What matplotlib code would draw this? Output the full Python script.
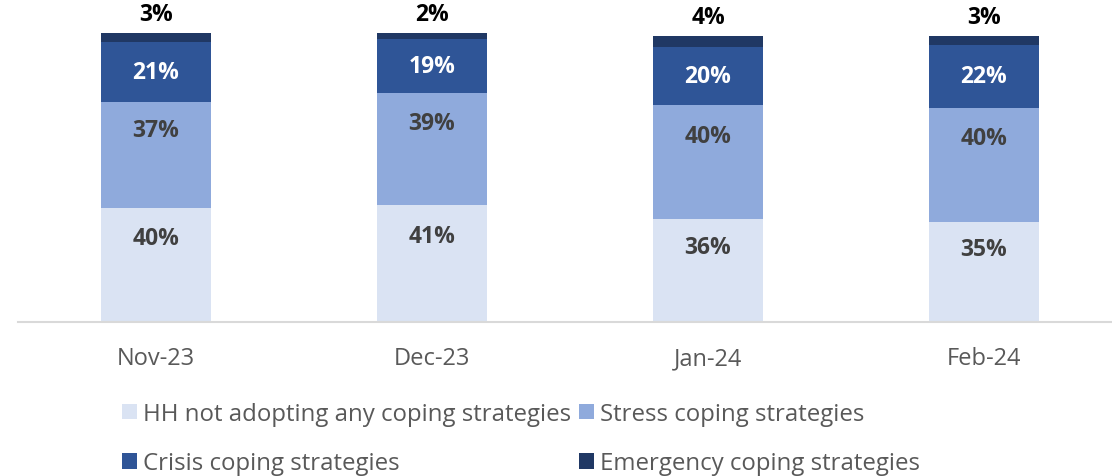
import matplotlib.pyplot as plt
from matplotlib.patches import Patch

months = ["Nov-23", "Dec-23", "Jan-24", "Feb-24"]
series_names = [
    "HH not adopting any coping strategies",
    "Stress coping strategies",
    "Crisis coping strategies",
    "Emergency coping strategies",
]
none_vals = [40, 41, 36, 35]
stress_vals = [37, 39, 40, 40]
crisis_vals = [21, 19, 20, 22]
emergency_vals = [3, 2, 4, 3]

colors = ["#DAE3F3", "#8FAADC", "#2F5597", "#203864"]
label_colors = ["#404040", "#404040", "white", "black"]
# vertical placement of each in-bar label, as a fraction of its segment
label_pos = [0.73, 0.73, 0.5]

plt.rcParams["font.family"] = ["Open Sans", "DejaVu Sans"]

W, H = 1112, 477
fig = plt.figure(figsize=(W / 100, H / 100), dpi=100)
ax = fig.add_axes([18 / W, 1 - 323 / H, (1122 - 18) / W, 323 / H])

x = list(range(len(months)))
bottoms = [0] * len(months)
all_series = [none_vals, stress_vals, crisis_vals, emergency_vals]
for i, vals in enumerate(all_series):
    ax.bar(x, vals, width=0.4, bottom=bottoms, color=colors[i], edgecolor="none")
    for j, v in enumerate(vals):
        if i < 3:
            ax.text(x[j], bottoms[j] + v * label_pos[i], f"{v}%", ha="center",
                    va="center", fontsize=16.5, fontweight="bold",
                    color=label_colors[i])
        else:
            ax.annotate(f"{v}%", (x[j], bottoms[j] + v), xytext=(0, 14),
                        textcoords="offset points", ha="center", va="center",
                        fontsize=16.5, fontweight="bold", color="black")
    bottoms = [b + v for b, v in zip(bottoms, vals)]

ax.set_xlim(-0.5, 3.5)
ax.set_ylim(0, 323 / 2.86)
ax.set_xticks(x)
ax.set_xticklabels(months, fontsize=17, color="#595959")
ax.tick_params(axis="x", length=0, pad=17.5)
ax.set_yticks([])
for s in ["top", "left", "right"]:
    ax.spines[s].set_visible(False)
ax.spines["bottom"].set_color("#D9D9D9")
ax.spines["bottom"].set_linewidth(1.5)

order = [0, 2, 1, 3]
handles = [Patch(facecolor=colors[k], edgecolor="none") for k in order]
labels = [series_names[k] for k in order]
fig.legend(handles, labels, ncol=2, loc="upper left",
           bbox_to_anchor=(122 / W, 1 - 403 / H), frameon=False,
           fontsize=17.3, labelcolor="#595959", handlelength=0.62,
           handleheight=0.62, handletextpad=0.25, columnspacing=0.34,
           labelspacing=1.05, borderpad=0, borderaxespad=0)

fig.savefig("out.png", dpi=100)
